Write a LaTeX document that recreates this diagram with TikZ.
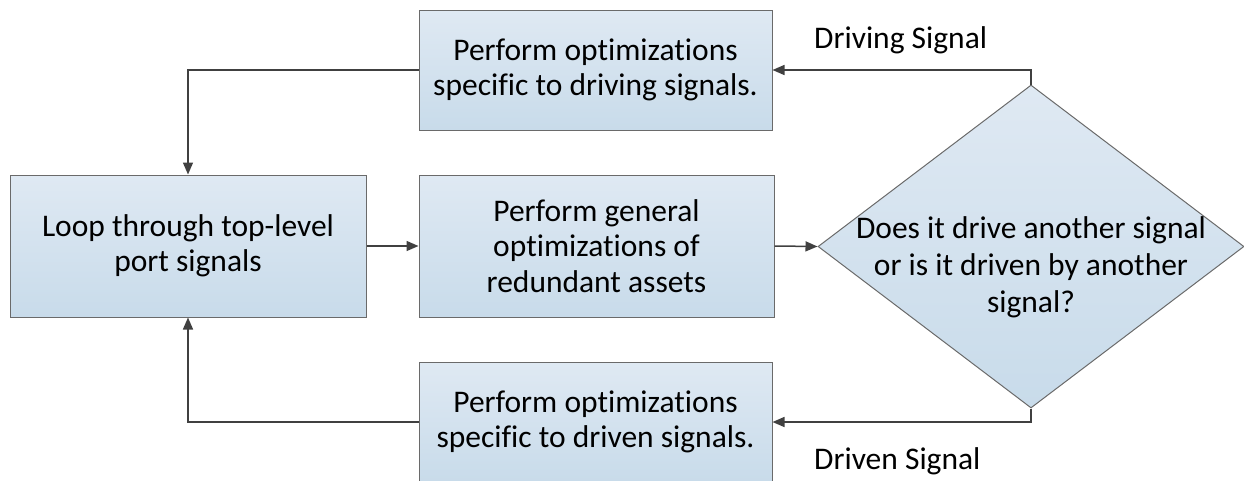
\documentclass[tikz,border=0pt]{standalone}
\usepackage{fontspec}
\setmainfont{Carlito}[Ligatures={NoCommon}]
\usetikzlibrary{arrows.meta,shapes.geometric}
\definecolor{boxtop}{HTML}{DFE9F3}
\definecolor{boxbot}{HTML}{C8DBEA}
\definecolor{boxline}{HTML}{6A6A6A}
\definecolor{conn}{HTML}{404040}
\tikzset{
  procbox/.style={draw=boxline, line width=1pt, top color=boxtop, bottom color=boxbot,
    inner sep=0pt, align=center, font=\fontsize{31.5}{35.5}\selectfont},
  decbox/.style={draw=boxline, line width=1pt, top color=boxtop, bottom color=boxbot,
    shape=diamond, inner sep=0pt},
  txt/.style={align=center, font=\fontsize{31.5}{37}\selectfont, inner sep=0pt},
  lbl/.style={anchor=west, font=\fontsize{31.5}{35}\selectfont, inner sep=0pt},
  conn/.style={draw=conn, line width=1.5pt, -{Triangle[length=12pt,width=10pt]}},
}
\begin{document}
\begin{tikzpicture}[x=1pt,y=-1pt]
\useasboundingbox (0,0) rectangle (1244,480);
\node[procbox, minimum width=353pt, minimum height=120pt] (top) at (595.5,70) {Perform optimizations\\specific to driving signals.};
\node[procbox, minimum width=356pt, minimum height=142pt] (loop) at (188,246) {Loop through top-level\\port signals};
\node[procbox, minimum width=355pt, minimum height=142pt] (gen) at (596.5,246) {Perform general\\optimizations of\\redundant assets};
\node[decbox, minimum width=426pt, minimum height=323pt] (dec) at (1031,246.5) {};
\node[txt] (dectext) at (1031,267) {Does it drive another signal\\or is it driven by another\\signal?};
\node[procbox, minimum width=353pt, minimum height=120pt] (bot) at (595.5,422) {Perform optimizations\\specific to driven signals.};
\node[lbl] (lab1) at (814,40) {Driving Signal};
\node[lbl] (lab2) at (814,461) {Driven Signal};
\draw[conn] (dec.north) |- (top.east);
\draw[conn] (top.west) -| (loop.north);
\draw[conn] (loop.east) -- (gen.west);
\draw[conn] (gen.east) -- (dec.west);
\draw[conn] (dec.south) |- (bot.east);
\draw[conn] (bot.west) -| (loop.south);
\end{tikzpicture}
\end{document}
